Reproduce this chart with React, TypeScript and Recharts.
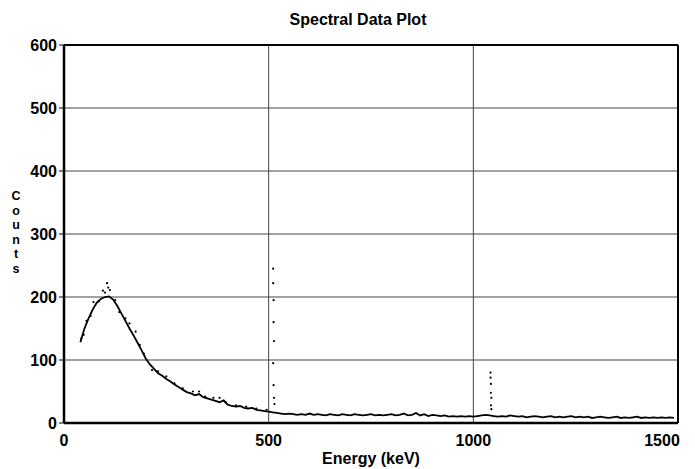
import React from "react";
import {
  ComposedChart,
  Line,
  Scatter,
  XAxis,
  YAxis,
  CartesianGrid,
  ReferenceLine,
  Label,
} from "recharts";

const energies: number[] = [
  40, 50, 60, 70, 80, 90, 100, 110, 120, 130, 140, 150, 160, 170, 180, 190,
  200, 210, 220, 230, 240, 250, 260, 270, 280, 290, 300, 310, 320, 330, 340,
  350, 360, 370, 380, 390, 400, 410, 420, 430, 440, 450, 460, 470, 480, 490,
  500, 510, 520, 530, 540, 550, 560, 570, 580, 590, 600, 610, 620, 630, 640,
  650, 660, 670, 680, 690, 700, 710, 720, 730, 740, 750, 760, 770, 780, 790,
  800, 810, 820, 830, 840, 850, 860, 870, 880, 890, 900, 910, 920, 930, 940,
  950, 960, 970, 980, 990, 1000, 1010, 1020, 1030, 1040, 1050, 1060, 1070,
  1080, 1090, 1100, 1110, 1120, 1130, 1140, 1150, 1160, 1170, 1180, 1190,
  1200, 1210, 1220, 1230, 1240, 1250, 1260, 1270, 1280, 1290, 1300, 1310,
  1320, 1330, 1340, 1350, 1360, 1370, 1380, 1390, 1400, 1410, 1420, 1430,
  1440, 1450, 1460, 1470, 1480, 1490,
];

const counts: number[] = [
  128, 150, 166, 180, 191, 197, 200, 201, 196, 186, 174, 162, 150, 139, 127,
  115, 102, 93, 86, 79, 75, 70, 66, 61, 57, 53, 49, 47, 44, 46, 41, 39, 37,
  35, 33, 36, 29, 27, 26, 27, 24, 23, 24, 21, 20, 19, 18, 17, 16, 15, 14, 15,
  14, 13, 14, 13, 15, 13, 14, 13, 12, 14, 13, 12, 14, 13, 12, 14, 13, 12, 13,
  14, 12, 13, 12, 13, 14, 12, 13, 15, 12, 13, 16, 12, 14, 11, 13, 12, 11, 12,
  10, 11, 10, 11, 10, 11, 10, 11, 12, 13, 12, 11, 10, 11, 10, 12, 11, 10, 11,
  9, 10, 11, 10, 9, 10, 11, 9, 10, 9, 10, 11, 9, 10, 9, 10, 8, 9, 10, 9, 8, 9,
  10, 8, 9, 8, 9, 10, 8, 9, 8, 9, 8, 9, 8, 9, 8,
];

// Loose dots: scatter around the hump and the two narrow peaks
const dotEnergies: number[] = [
  42, 48, 55, 65, 72, 85, 95, 100, 105, 108, 112, 125, 135, 150, 160, 175,
  185, 195, 215, 230, 250, 270, 290, 315, 330, 345, 365, 380, 395, 420, 445,
  470, 495,
  511, 511, 512, 512, 513, 511, 512, 513, 514,
  1042, 1042, 1043, 1043, 1044, 1043, 1044,
];
const dotCounts: number[] = [
  134, 140, 162, 170, 192, 193, 210, 207, 222, 215, 211, 195, 176, 166, 158,
  145, 124, 110, 84, 82, 74, 63, 55, 50, 50, 42, 40, 40, 33, 28, 26,
  23, 21,
  245, 222, 195, 160, 130, 95, 60, 40, 30,
  80, 72, 62, 48, 40, 28, 22,
];

const xTicks: number[] = [0, 500, 1000, 1500];
const yTicks: number[] = [0, 100, 200, 300, 400, 500, 600];

const lineData = energies.map((e, i) => ({ e, c: counts[i] }));
const dotData = dotEnergies.map((e, i) => ({ e, c: dotCounts[i] }));

const FONT = "'Liberation Sans', Arial, sans-serif";

const Dot = (props: any) => {
  const { cx, cy } = props;
  if (cx == null || cy == null) return null;
  return <circle cx={cx} cy={cy} r={1.1} fill="#000" />;
};

const XTick = (props: any) => {
  const { x, y, payload } = props;
  const shift = payload.value === 1500 ? -16 : 0;
  return (
    <text
      x={x + shift}
      y={y}
      dy="0.71em"
      textAnchor="middle"
      fontFamily={FONT}
      fontWeight="bold"
      fontSize={16}
      fill="#000"
    >
      {payload.value}
    </text>
  );
};

const CountsLabel = () => {
  const letters = ["C", "o", "u", "n", "t", "s"];
  return (
    <g>
      {letters.map((l, i) => (
        <text
          key={i}
          x={16}
          y={200 + i * 14.6}
          textAnchor="middle"
          fontFamily={FONT}
          fontWeight="bold"
          fontSize={12.5}
          fill="#000"
        >
          {l}
        </text>
      ))}
    </g>
  );
};

export default function App() {
  return (
    <div style={{ position: "absolute", left: 0, top: 0, width: 695, height: 469, background: "#fff" }}>
      <div
        style={{
          position: "absolute",
          left: 0,
          top: 11,
          width: 716,
          textAlign: "center",
          fontFamily: FONT,
          fontWeight: "bold",
          fontSize: 16,
          color: "#000",
        }}
      >
        Spectral Data Plot
      </div>
      <ComposedChart
        width={695}
        height={469}
        data={lineData}
        margin={{ top: 45, right: 17, bottom: 0, left: 8 }}
      >
        <CartesianGrid stroke="#444" strokeWidth={1} fill="#fff" />
        <XAxis
          type="number"
          dataKey="e"
          domain={[0, 1500]}
          ticks={xTicks}
          interval={0}
          height={46}
          tickLine={false}
          axisLine={{ stroke: "#000", strokeWidth: 2.5 }}
          tick={<XTick />}
          tickMargin={6}
        >
          <Label
            value="Energy (keV)"
            position="insideBottom"
            offset={5}
            style={{ fill: "#000", fontFamily: FONT, fontWeight: "bold", fontSize: 16 }}
          />
        </XAxis>
        <YAxis
          type="number"
          domain={[0, 600]}
          ticks={yTicks}
          interval={0}
          width={56}
          tickSize={5}
          tickLine={{ stroke: "#000" }}
          axisLine={{ stroke: "#000", strokeWidth: 2.5 }}
          tick={{ fill: "#000", fontFamily: FONT, fontWeight: "bold", fontSize: 16 }}
          label={{ content: () => <CountsLabel /> }}
        />
        <ReferenceLine y={600} stroke="#000" strokeWidth={2} />
        <ReferenceLine x={1500} stroke="#000" strokeWidth={2} />
        <Line
          type="linear"
          dataKey="c"
          stroke="#000"
          strokeWidth={1.8}
          dot={false}
          isAnimationActive={false}
        />
        <Scatter
          data={dotData}
          dataKey="c"
          shape={Dot}
          isAnimationActive={false}
        />
      </ComposedChart>
    </div>
  );
}
